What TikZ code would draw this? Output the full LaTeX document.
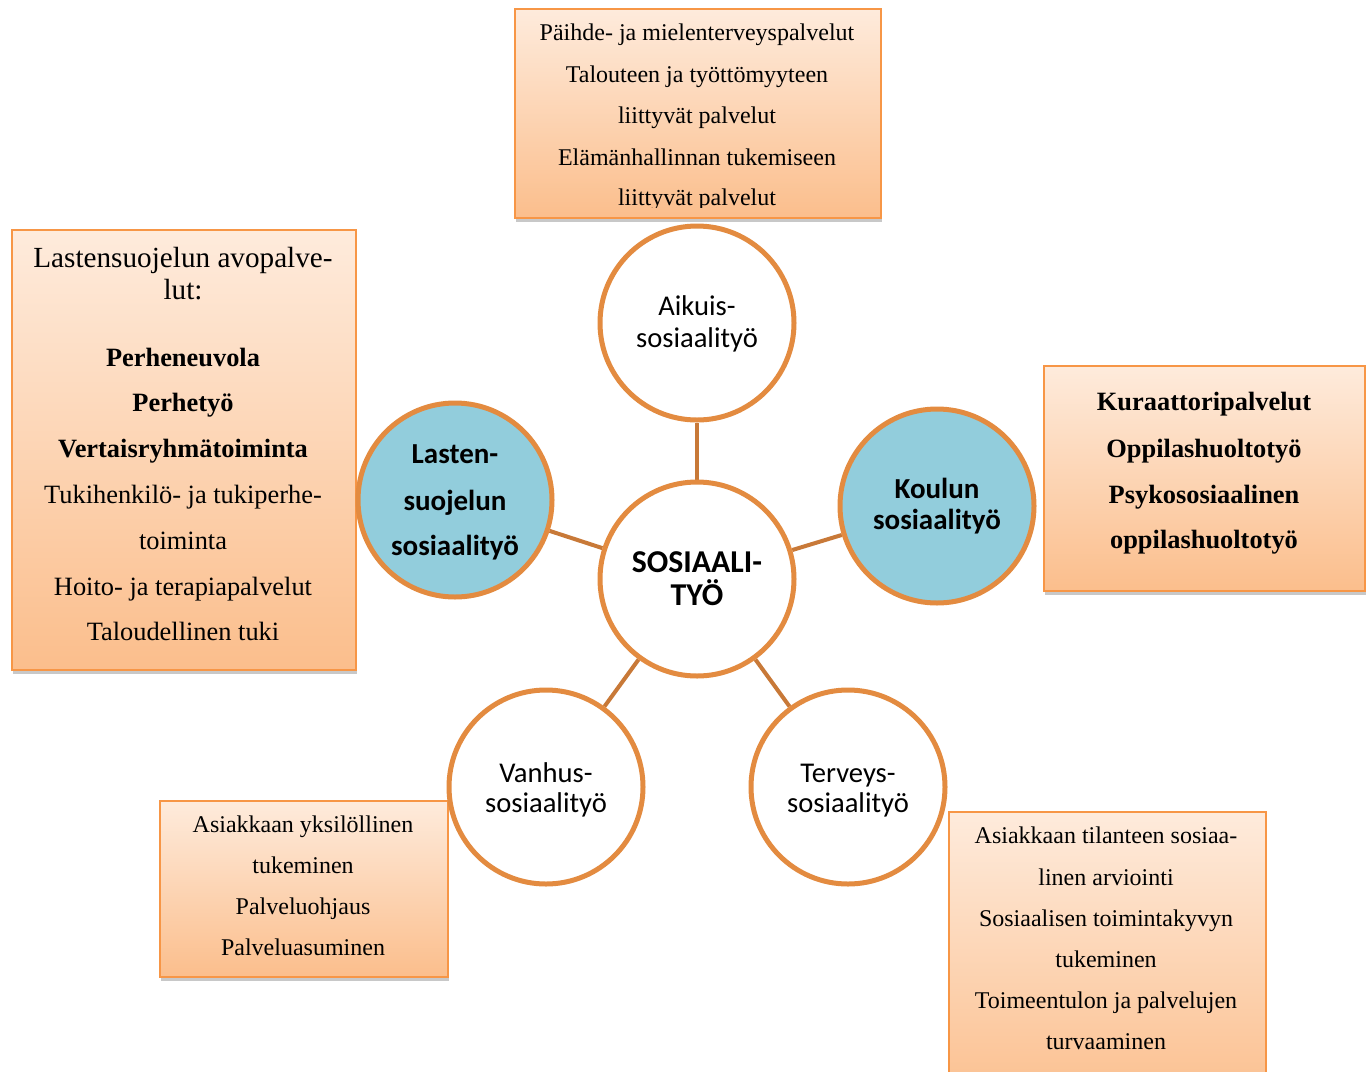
\documentclass[tikz,border=0pt]{standalone}
\usepackage{fontspec}
\setmainfont{Liberation Serif}
\newfontfamily\calfont{Carlito}
\usetikzlibrary{shadows,backgrounds}
\definecolor{ring}{RGB}{227,139,64}
\definecolor{link}{RGB}{200,121,56}
\definecolor{sky}{RGB}{146,205,220}
\definecolor{boxline}{RGB}{247,150,70}
\definecolor{peachtop}{RGB}{254,235,220}
\definecolor{peachbot}{RGB}{251,190,140}
\begin{document}
\begin{tikzpicture}[x=0.5pt,y=-0.5pt,
  infobox/.style={draw=boxline, line width=1pt, top color=peachtop, bottom color=peachbot,
    anchor=north west, inner sep=0pt,
    drop shadow={shadow xshift=0.6pt, shadow yshift=-2pt, opacity=0.3, fill=black!70}},
  hub/.style={circle, draw=ring, line width=2.5pt, fill=white, minimum size=97pt, inner sep=0pt},
  bluehub/.style={hub, fill=sky},
  spoke/.style={draw=link, line width=2pt},
  tline/.style={anchor=base, inner sep=0pt},
  serif12/.style={tline, font=\fontsize{12}{14}\selectfont},
  serif13/.style={tline, font=\fontsize{13.2}{15}\selectfont},
  serif13b/.style={tline, font=\fontsize{13.2}{15}\selectfont\bfseries},
  serif15/.style={tline, font=\fontsize{14.6}{17}\selectfont},
  ringtext/.style={tline, font=\calfont\fontsize{14.3}{17}\selectfont},
  ringbold/.style={tline, font=\calfont\fontsize{14.5}{17}\selectfont\bfseries},
  corebold/.style={tline, font=\calfont\fontsize{15.9}{19}\selectfont\bfseries}]
\useasboundingbox (0,0) rectangle (1370,1071);

% service boxes
\node[infobox, minimum width=183pt, minimum height=104.5pt] (topbox) at (514,8) {};
\node[infobox, minimum width=172pt, minimum height=220pt] (leftbox) at (11,229) {};
\node[infobox, minimum width=160.5pt, minimum height=112.5pt] (rightbox) at (1043,365) {};
\node[infobox, minimum width=144pt, minimum height=88pt] (blbox) at (159,800) {};
\node[infobox, minimum width=158.5pt, minimum height=150pt] (brbox) at (948,811) {};

% box texts
\begin{scope}
  \clip (514,8) rectangle (880,207);
  \foreach \yy/\txt [count=\i] in {40/Päihde- ja mielenterveyspalvelut,
      82/Talouteen ja työttömyyteen, 123/liittyvät palvelut,
      165/Elämänhallinnan tukemiseen, 205/liittyvät palvelut}
    \node[serif12] (top-\i) at (697,\yy) {\txt};
\end{scope}

\node[serif15] (left-h1) at (183,267) {Lastensuojelun avopalve-};
\node[serif15] (left-h2) at (183,299) {lut:};
\foreach \yy/\txt [count=\i] in {366/Perheneuvola, 411/Perhetyö, 457/Vertaisryhmätoiminta}
  \node[serif13b] (leftb-\i) at (183,\yy) {\txt};
\foreach \yy/\txt [count=\i] in {503/Tukihenkilö- ja tukiperhe-, 549/toiminta,
    595/Hoito- ja terapiapalvelut, 640/Taloudellinen tuki}
  \node[serif13] (left-\i) at (183,\yy) {\txt};

\foreach \yy/\txt [count=\i] in {410/Kuraattoripalvelut, 457/Oppilashuoltotyö,
    503/Psykososiaalinen, 548/oppilashuoltotyö}
  \node[serif13b] (right-\i) at (1204,\yy) {\txt};

\foreach \yy/\txt [count=\i] in {832/Asiakkaan yksilöllinen, 873/tukeminen,
    914/Palveluohjaus, 955/Palveluasuminen}
  \node[serif12] (bl-\i) at (303,\yy) {\txt};

\foreach \yy/\txt [count=\i] in {843/Asiakkaan tilanteen sosiaa-, 885/linen arviointi,
    926/Sosiaalisen toimintakyvyn, 967/tukeminen,
    1008/Toimeentulon ja palvelujen, 1049/turvaaminen}
  \node[serif12] (br-\i) at (1106,\yy) {\txt};

% circles
\node[hub] (core) at (697,579) {};
\node[hub] (adult) at (697,323) {};
\node[bluehub] (child) at (455,500) {};
\node[bluehub] (school) at (937,506) {};
\node[hub] (elder) at (546,787) {};
\node[hub] (health) at (848,787) {};

% white page and the spokes, both behind the circles
\begin{scope}[on background layer]
  \fill[white] (0,0) rectangle (1370,1071);
  \foreach \n in {adult,child,school,elder,health}
    \draw[spoke] (core) -- (\n);
\end{scope}

% circle labels
\node[corebold] (core-1) at (697,572) {SOSIAALI-};
\node[corebold] (core-2) at (697,605) {TYÖ};
\node[ringtext] (adult-1) at (697,315) {Aikuis-};
\node[ringtext] (adult-2) at (697,347) {sosiaalityö};
\node[ringbold] (child-1) at (455,463) {Lasten-};
\node[ringbold] (child-2) at (455,510) {suojelun};
\node[ringbold] (child-3) at (455,555) {sosiaalityö};
\node[ringbold] (school-1) at (937,498) {Koulun};
\node[ringbold] (school-2) at (937,529) {sosiaalityö};
\node[ringtext] (elder-1) at (546,782) {Vanhus-};
\node[ringtext] (elder-2) at (546,812) {sosiaalityö};
\node[ringtext] (health-1) at (848,782) {Terveys-};
\node[ringtext] (health-2) at (848,812) {sosiaalityö};
\end{tikzpicture}
\end{document}
